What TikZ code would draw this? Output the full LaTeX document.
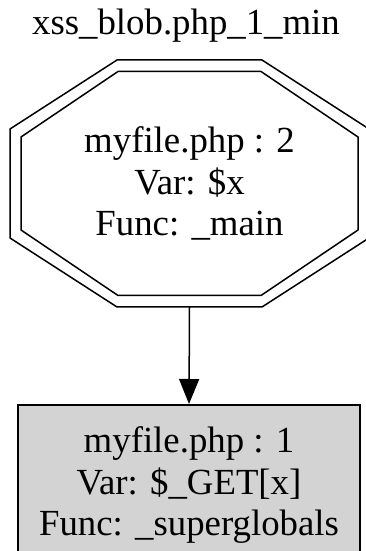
\documentclass[tikz,border=0pt]{standalone}
\usepackage{fontspec}
\setmainfont{Liberation Serif}
\usetikzlibrary{arrows.meta}
\definecolor{boxgrey}{RGB}{211,211,211}
\tikzset{
  label text/.style={font=\fontsize{36.8}{41.5}\selectfont, align=center, inner sep=0pt},
  octbox/.style={label text, minimum width=359pt, minimum height=247pt},
  rimline/.style={line width=1.5pt, line join=miter},
  sinkbox/.style={label text, draw, line width=1.8pt, fill=boxgrey,
                  minimum width=342pt, minimum height=161pt},
  flow/.style={line width=1.5pt, -{Triangle[length=25pt, width=20pt]}},
}
\begin{document}
\begin{tikzpicture}[x=1pt, y=1pt]
  \clip (0,0) rectangle (366,551);
  \fill[white] (0,0) rectangle (366,551);

  % graph title
  \node[label text, anchor=base] (title) at (186,516) {xss\_blob.php\_1\_min};

  % source node: double octagon
  \node[octbox] (oct) at (189.5,367.5) {myfile.php : 2\\Var: \$x\\Func: \_main};
  \begin{scope}[shift={(oct.center)}]
    \draw[rimline] (-72.5,123.5) -- (72.5,123.5) -- (179.5,54.5) -- (179.5,-54.5)
      -- (72.5,-123.5) -- (-72.5,-123.5) -- (-179.5,-54.5) -- (-179.5,54.5) -- cycle;
    \draw[rimline] (-71.5,112) -- (71.5,112) -- (168.5,46.5) -- (168.5,-46.5)
      -- (71.5,-112) -- (-71.5,-112) -- (-168.5,-46.5) -- (-168.5,46.5) -- cycle;
  \end{scope}

  % sink node: filled box
  \node[sinkbox, anchor=north] (sink) at (189,147)
    {myfile.php : 1\\Var: \$\_GET[x]\\Func: \_superglobals};

  % data flow edge
  \draw[flow] (oct.south) -- (sink.north);
\end{tikzpicture}
\end{document}
